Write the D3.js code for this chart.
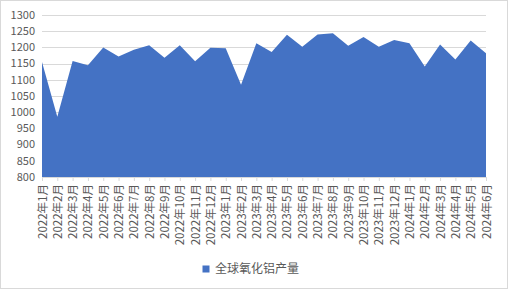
<!DOCTYPE html>
<html>
<head>
  <meta charset="utf-8">
  <script src="https://d3js.org/d3.v7.min.js"></script>
  <style>
    body { margin: 0; background: #fff; }
    text { font-family: "Noto Sans CJK SC", "Liberation Sans", sans-serif; }
  </style>
</head>
<body>
  <svg id="chart"></svg>
  <script>
    // monthly alumina output
    const months = ["2022年1月","2022年2月","2022年3月","2022年4月","2022年5月","2022年6月",
      "2022年7月","2022年8月","2022年9月","2022年10月","2022年11月","2022年12月",
      "2023年1月","2023年2月","2023年3月","2023年4月","2023年5月","2023年6月",
      "2023年7月","2023年8月","2023年9月","2023年10月","2023年11月","2023年12月",
      "2024年1月","2024年2月","2024年3月","2024年4月","2024年5月","2024年6月"];
    const output = [1155, 986, 1158, 1145, 1200, 1172, 1193, 1207, 1168, 1207, 1157, 1199,
      1197, 1085, 1213, 1186, 1239, 1202, 1240, 1244, 1205, 1232, 1202, 1223,
      1213, 1141, 1209, 1163, 1221, 1182];
    const yTicks = [800, 850, 900, 950, 1000, 1050, 1100, 1150, 1200, 1250, 1300];
    const seriesName = "全球氧化铝产量";

    const W = 508, H = 289;
    const margin = { top: 15, right: 22, bottom: 112, left: 42 };
    const width = W - margin.left - margin.right;
    const height = H - margin.top - margin.bottom;

    const svg = d3.select("#chart").attr("width", W).attr("height", H);

    svg.append("rect")
      .attr("x", 0.5).attr("y", 0.5)
      .attr("width", W - 1).attr("height", H - 1)
      .attr("fill", "#fff").attr("stroke", "#d9d9d9");

    const g = svg.append("g").attr("transform", `translate(${margin.left},${margin.top})`);

    const x = d3.scalePoint().domain(months).range([0, width]);
    const y = d3.scaleLinear().domain([800, 1300]).range([height, 0]);

    // gridlines
    g.selectAll(".grid")
      .data(yTicks.slice(1))
      .enter().append("line")
      .attr("x1", 0).attr("x2", width)
      .attr("y1", d => Math.round(y(d)) + 0.5)
      .attr("y2", d => Math.round(y(d)) + 0.5)
      .attr("stroke", "#d9d9d9");

    const area = d3.area()
      .x((d, i) => x(months[i]))
      .y0(height)
      .y1(d => y(d));

    g.append("path")
      .datum(output)
      .attr("fill", "#4472c4")
      .attr("d", area);

    // y axis labels
    g.selectAll(".ylab")
      .data(yTicks)
      .enter().append("text")
      .attr("x", -7)
      .attr("y", d => y(d))
      .attr("dy", "0.35em")
      .attr("text-anchor", "end")
      .attr("font-size", 11)
      .attr("fill", "#595959")
      .text(d => d);

    // x axis
    const xAxis = g.append("g")
      .attr("transform", `translate(0,${height})`)
      .call(d3.axisBottom(x).tickSize(4).tickPadding(3));
    xAxis.select(".domain").attr("stroke", "#d9d9d9");
    xAxis.selectAll(".tick line").attr("stroke", "#d9d9d9");
    xAxis.selectAll(".tick text")
      .attr("font-size", 11.5)
      .attr("fill", "#595959")
      .attr("font-family", "Noto Sans CJK SC, sans-serif")
      .attr("transform", "rotate(-90)")
      .attr("text-anchor", "end")
      .attr("x", -7)
      .attr("y", 0)
      .attr("dy", "0.35em");

    // legend
    const lg = svg.append("g").attr("transform", "translate(206,269)");
    lg.append("rect")
      .attr("x", -3.5).attr("y", -3.5)
      .attr("width", 7).attr("height", 7)
      .attr("fill", "#4472c4");
    lg.append("text")
      .attr("x", 9).attr("y", 0).attr("dy", "0.35em")
      .attr("font-size", 12)
      .attr("fill", "#595959")
      .text(seriesName);
  </script>
</body>
</html>
